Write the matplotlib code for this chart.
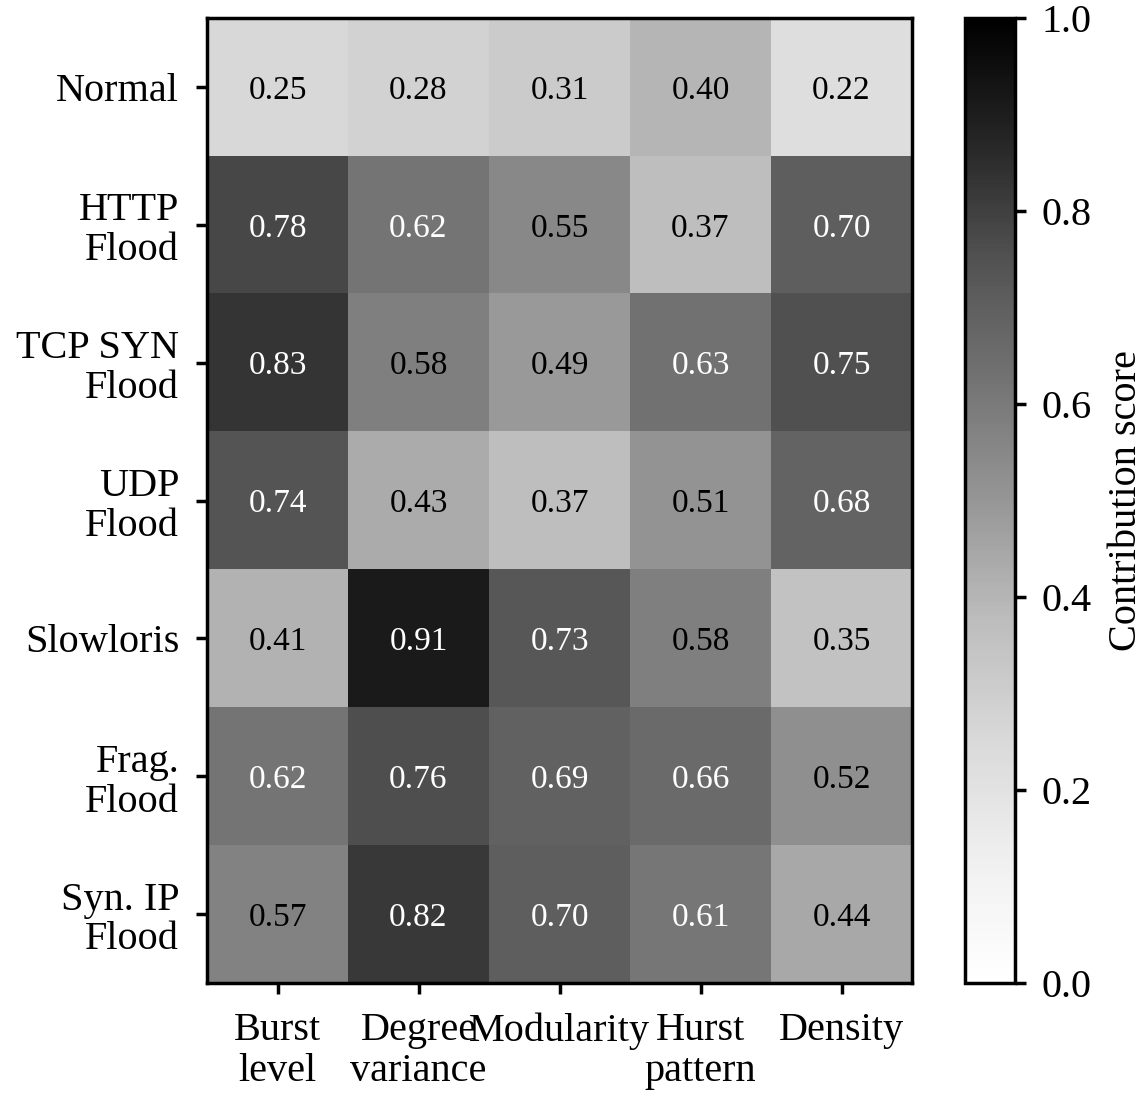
import numpy as np
import matplotlib
matplotlib.use('Agg')
import matplotlib.pyplot as plt

plt.rcParams['font.family'] = ['Liberation Serif', 'DejaVu Serif']

attack_types = [
    'Normal',
    'HTTP\nFlood',
    'TCP SYN\nFlood',
    'UDP\nFlood',
    'Slowloris',
    'Frag.\nFlood',
    'Syn. IP\nFlood',
]

features = [
    'Burst\nlevel',
    'Degree\nvariance',
    'Modularity',
    'Hurst\npattern',
    'Density',
]

scores = np.array([
    [0.25, 0.28, 0.31, 0.40, 0.22],
    [0.78, 0.62, 0.55, 0.37, 0.70],
    [0.83, 0.58, 0.49, 0.63, 0.75],
    [0.74, 0.43, 0.37, 0.51, 0.68],
    [0.41, 0.91, 0.73, 0.58, 0.35],
    [0.62, 0.76, 0.69, 0.66, 0.52],
    [0.57, 0.82, 0.70, 0.61, 0.44],
])

fig = plt.figure(figsize=(11.45, 10.94), dpi=100)
ax = fig.add_axes([207 / 1145, 1 - 983 / 1094, 705 / 1145, 965 / 1094])
cax = fig.add_axes([965 / 1145, 1 - 983 / 1094, 50 / 1145, 965 / 1094])

im = ax.imshow(scores, cmap='Greys', vmin=0, vmax=1, aspect='auto')

# annotate each cell
for i in range(scores.shape[0]):
    for j in range(scores.shape[1]):
        val = scores[i, j]
        color = 'white' if val > 0.6 else 'black'
        ax.text(j, i, f'{val:.2f}', ha='center', va='center_baseline',
                fontsize=24, color=color)

ax.set_xticks(range(len(features)))
ax.set_xticklabels(features, fontsize=29, linespacing=1.15)
ax.set_yticks(range(len(attack_types)))
ax.set_yticklabels(attack_types, fontsize=29, linespacing=1.1)
ax.tick_params(length=8, width=2.5)
ax.tick_params(axis='x', pad=13)
ax.tick_params(axis='y', pad=12)
for spine in ax.spines.values():
    spine.set_linewidth(2.5)

cbar = fig.colorbar(im, cax=cax)
cbar.set_label('Contribution score', fontsize=29, labelpad=12)
cbar.ax.tick_params(labelsize=29, length=8, width=2.5, pad=11)
cbar.outline.set_linewidth(2.5)
cbar.set_ticks([0.0, 0.2, 0.4, 0.6, 0.8, 1.0])

plt.savefig('out.png', dpi=100)
